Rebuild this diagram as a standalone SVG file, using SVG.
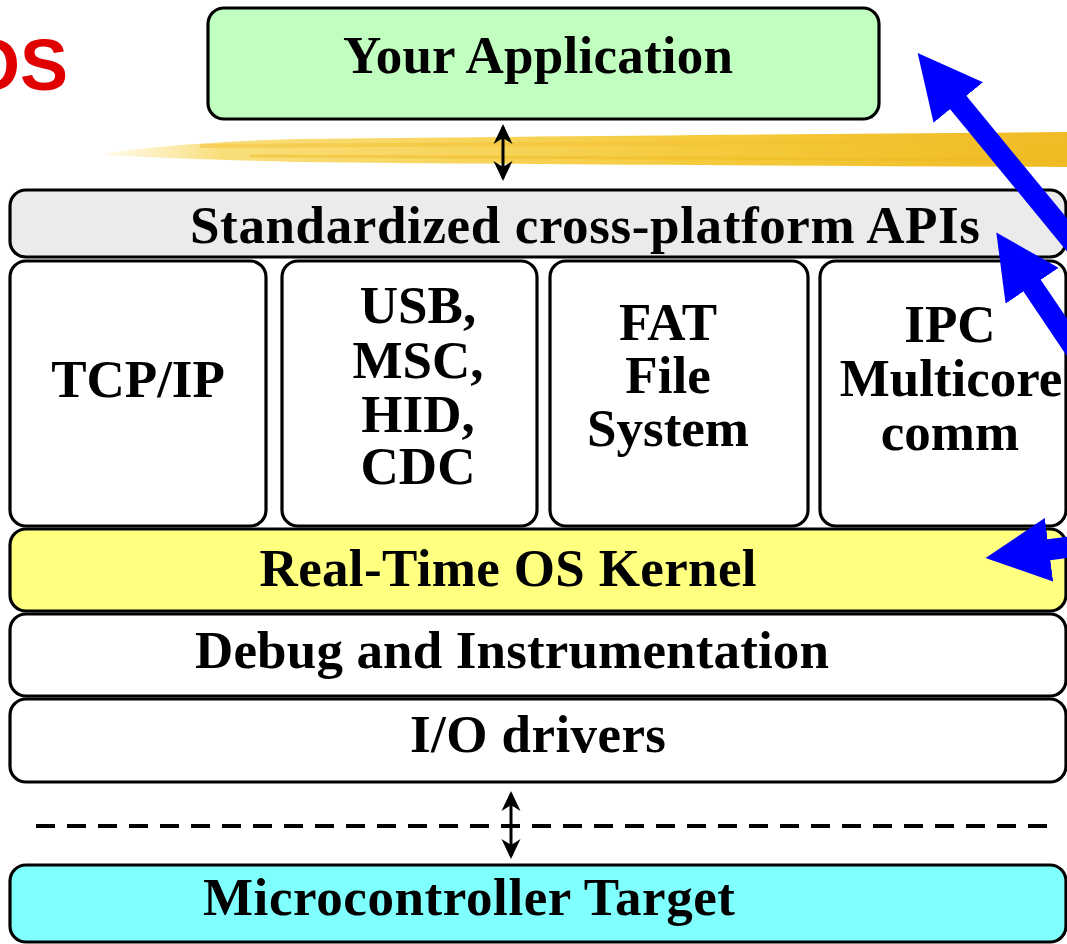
<svg xmlns="http://www.w3.org/2000/svg" width="1067" height="944" viewBox="0 0 1067 944">
<defs>
<style>
.box{stroke:#000;stroke-width:3.2}
.t{font-family:"Liberation Serif","Times New Roman",serif;font-weight:bold;font-size:53px;fill:#000;text-anchor:middle}
.blue{stroke:#0000ff;stroke-width:21;fill:none}
.thin{stroke:#000;stroke-width:3;fill:none}
</style>
<linearGradient id="hl" x1="0" y1="0" x2="1" y2="0">
<stop offset="0" stop-color="#fbe48a" stop-opacity="0.2"/>
<stop offset="0.12" stop-color="#f8d862" stop-opacity="0.85"/>
<stop offset="0.6" stop-color="#f5cb3e"/>
<stop offset="1" stop-color="#f0bb24"/>
</linearGradient>
<marker id="bh" markerUnits="userSpaceOnUse" viewBox="0 0 64 64" markerWidth="64" markerHeight="64" refX="2" refY="32" orient="auto">
<path d="M0,0 L64,32 L0,64 Z" fill="#0000ff"/>
</marker>
<marker id="dh" markerUnits="userSpaceOnUse" viewBox="0 0 20 20" markerWidth="20" markerHeight="20" refX="17" refY="10" orient="auto-start-reverse">
<path d="M0,0.5 L20,10 L0,19.5 L6,10 Z" fill="#000"/>
</marker>
</defs>
<rect width="1067" height="944" fill="#fff"/>

<g id="title">
<text x="68" y="90" font-family="Liberation Sans, Arial, sans-serif" font-weight="bold" font-size="72" fill="#e00000" text-anchor="end">OS</text>
</g>

<g id="highlight">
<path d="M105,153 C160,146 220,141 300,139 C500,137 800,134 1067,132 L1067,167 C800,166 500,164 300,162 C220,160 160,158 105,155 Z" fill="url(#hl)"/>
<path d="M200,146 C400,143 700,142 1067,141" stroke="#f3c030" stroke-width="4" opacity="0.5" fill="none"/>
<path d="M250,156 C450,157 750,159 1067,160" stroke="#eeb820" stroke-width="3" opacity="0.45" fill="none"/>
</g>

<g id="app">
<rect class="box" x="208" y="8" width="671" height="111" rx="16" fill="#c0ffc0"/>
<text class="t" x="538" y="73" textLength="390" lengthAdjust="spacing">Your Application</text>
</g>

<g id="apis">
<rect class="box" x="10" y="190" width="1056" height="67" rx="16" fill="#ebebeb"/>
<text class="t" x="585" y="243" textLength="790" lengthAdjust="spacing">Standardized cross-platform APIs</text>
</g>

<g id="tcpip">
<rect class="box" x="10" y="261" width="256" height="265" rx="16" fill="#fff"/>
<text class="t" x="138" y="397">TCP/IP</text>
</g>

<g id="usb">
<rect class="box" x="282" y="261" width="255" height="265" rx="16" fill="#fff"/>
<text class="t" x="418" y="323">USB,</text>
<text class="t" x="418" y="378">MSC,</text>
<text class="t" x="418" y="432">HID,</text>
<text class="t" x="418" y="484">CDC</text>
</g>

<g id="fat">
<rect class="box" x="550" y="261" width="258" height="265" rx="16" fill="#fff"/>
<text class="t" x="668" y="340">FAT</text>
<text class="t" x="668" y="393">File</text>
<text class="t" x="668" y="446">System</text>
</g>

<g id="ipc">
<rect class="box" x="820" y="261" width="246" height="265" rx="16" fill="#fff"/>
<text class="t" x="950" y="342">IPC</text>
<text class="t" x="951" y="396">Multicore</text>
<text class="t" x="950" y="450">comm</text>
</g>

<g id="kernel">
<rect class="box" x="10" y="529" width="1056" height="82" rx="16" fill="#ffff80"/>
<text class="t" x="508" y="586" textLength="497" lengthAdjust="spacing">Real-Time OS Kernel</text>
</g>

<g id="debug">
<rect class="box" x="10" y="614" width="1056" height="82" rx="16" fill="#fff"/>
<text class="t" x="512" y="668" textLength="634" lengthAdjust="spacing">Debug and Instrumentation</text>
</g>

<g id="io">
<rect class="box" x="10" y="699" width="1056" height="83" rx="16" fill="#fff"/>
<text class="t" x="538" y="752" textLength="256" lengthAdjust="spacing">I/O drivers</text>
</g>

<g id="mcu">
<rect class="box" x="10" y="865" width="1056" height="77" rx="16" fill="#80ffff"/>
<text class="t" x="469" y="915" textLength="532" lengthAdjust="spacing">Microcontroller Target</text>
</g>

<g id="connectors">
<line class="thin" x1="503" y1="127" x2="503" y2="178" marker-start="url(#dh)" marker-end="url(#dh)"/>
<line x1="36" y1="826" x2="1050" y2="826" stroke="#000" stroke-width="4" stroke-dasharray="19 12" stroke-linecap="butt"/>
<line class="thin" x1="511" y1="794" x2="511" y2="856" marker-start="url(#dh)" marker-end="url(#dh)"/>
<line class="blue" x1="1146" y1="331" x2="957" y2="101" marker-end="url(#bh)"/>
<line class="blue" x1="1143" y1="450" x2="1031" y2="284" marker-end="url(#bh)"/>
<line class="blue" x1="1146" y1="537" x2="1047" y2="550" marker-end="url(#bh)"/>
</g>
</svg>
